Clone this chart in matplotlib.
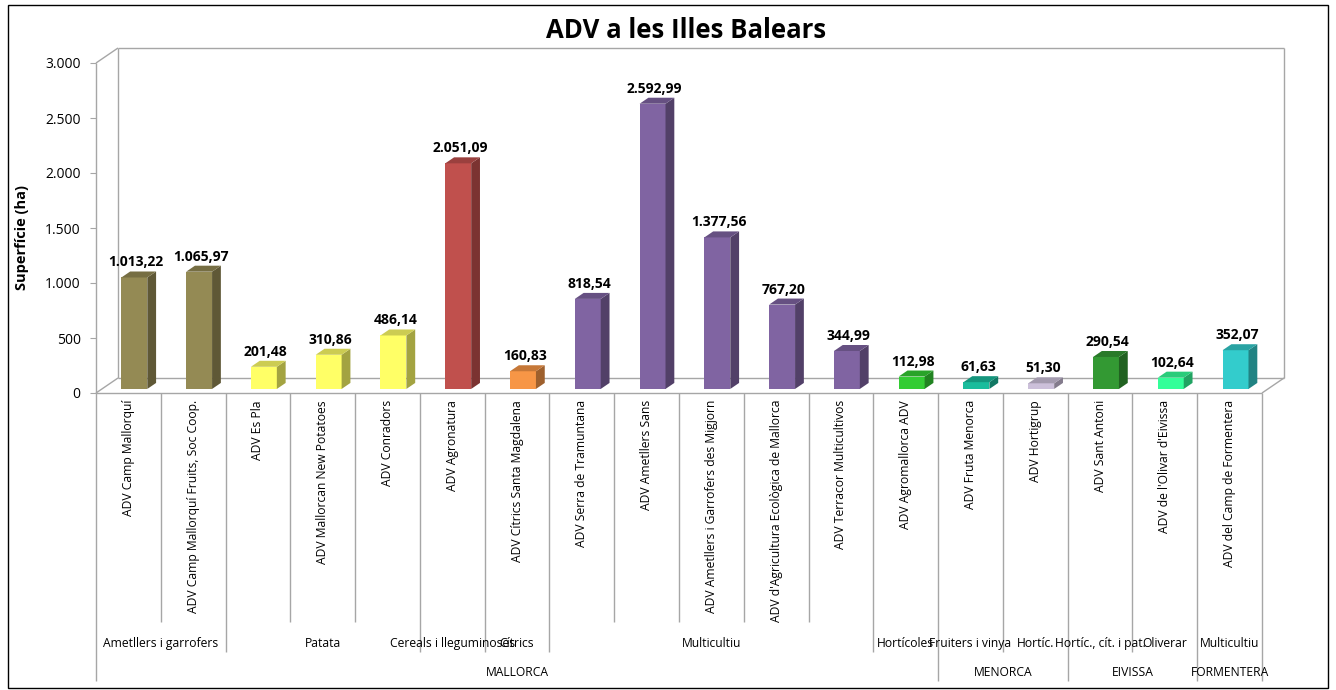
import matplotlib
matplotlib.use("Agg")
import matplotlib.pyplot as plt
import matplotlib.colors as mcolors
from matplotlib.patches import Polygon, Rectangle

plt.rcParams['font.family'] = ['Open Sans', 'DejaVu Sans']

# ── data ──
names = [
    "ADV Camp Mallorquí",
    "ADV Camp Mallorquí Fruits, Soc Coop.",
    "ADV Es Pla",
    "ADV Mallorcan New Potatoes",
    "ADV Conradors",
    "ADV Agronatura",
    "ADV Cítrics Santa Magdalena",
    "ADV Serra de Tramuntana",
    "ADV Ametllers Sans",
    "ADV Ametllers i Garrofers des Migjorn",
    "ADV d'Agricultura Ecològica de Mallorca",
    "ADV Terracor Multicultivos",
    "ADV Agromallorca ADV",
    "ADV Fruta Menorca",
    "ADV Hortigrup",
    "ADV Sant Antoni",
    "ADV de l'Olivar d'Eivissa",
    "ADV del Camp de Formentera",
]
values = [1013.22, 1065.97, 201.48, 310.86, 486.14, 2051.09, 160.83, 818.54,
          2592.99, 1377.56, 767.20, 344.99, 112.98, 61.63, 51.30, 290.54,
          102.64, 352.07]
colors = ["#948A54", "#948A54", "#FFFF66", "#FFFF66", "#FFFF66", "#C0504D",
          "#F79646", "#8064A2", "#8064A2", "#8064A2", "#8064A2", "#8064A2",
          "#33CC33", "#1ABC9C", "#CCC0DA", "#339933", "#33FF99", "#33CCCC"]
# (label, first category, last category + 1)
crops = [("Ametllers i garrofers", 0, 2), ("Patata", 2, 5),
         ("Cereals i lleguminoses", 5, 6), ("Cítrics", 6, 7),
         ("Multicultiu", 7, 12), ("Hortícoles", 12, 13),
         ("Fruiters i vinya", 13, 14), ("Hortíc.", 14, 15),
         ("Hortíc., cít. i pat.", 15, 16), ("Oliverar", 16, 17),
         ("Multicultiu", 17, 18)]
islands = [("MALLORCA", 0, 13), ("MENORCA", 13, 15), ("EIVISSA", 15, 17),
           ("FORMENTERA", 17, 18)]
yticks = [0, 500, 1000, 1500, 2000, 2500, 3000]

def es_num(v, dec=2):
    s = f"{v:,.{dec}f}"
    return s.replace(",", "X").replace(".", ",").replace("X", ".")

# ── layout (pixels) ──
W, H, DPI = 1336, 690, 100
X0, X1 = 96, 1262          # front axis left/right
Y0, Y1 = 393, 63           # value 0 / value 3000
N = len(values)
YMAX = yticks[-1]
ux = N / (X1 - X0)         # data units per px
uy = YMAX / (Y0 - Y1)
WALL_DX, WALL_DY = 22 * ux, 15 * uy   # depth offset of back wall
T0, T1 = 0.27, 0.67                   # bar depth range (fraction)
GRAY = "#A6A6A6"

fig = plt.figure(figsize=(W / DPI, H / DPI), dpi=DPI)
ax = fig.add_axes([X0 / W, (H - Y0) / H, (X1 - X0) / W, (Y0 - Y1) / H])
ax.set_xlim(0, N)
ax.set_ylim(0, YMAX)
for sp in ax.spines.values():
    sp.set_visible(False)
ax.set_xticks([])
ax.set_yticks(yticks)
ax.set_yticklabels([es_num(t, 0) for t in yticks], fontsize=10)
ax.tick_params(axis="y", length=4, color=GRAY, pad=7)
ax.set_ylabel("Superfície (ha)", fontsize=10.5, fontweight="bold")
ax.yaxis.set_label_coords((29 - X0) / (X1 - X0), (Y0 - 238) / (Y0 - Y1))

def line(xs, ys, **kw):
    ax.plot(xs, ys, color=GRAY, lw=1, clip_on=False, solid_capstyle="butt", **kw)

# 3D frame: y axis, back wall, floor
line([0, 0], [0, YMAX])
line([0, WALL_DX], [YMAX, YMAX + WALL_DY])
line([WALL_DX, WALL_DX], [WALL_DY, YMAX + WALL_DY])
line([WALL_DX, N + WALL_DX], [YMAX + WALL_DY] * 2)
line([N + WALL_DX, N + WALL_DX], [WALL_DY, YMAX + WALL_DY])
line([WALL_DX, N + WALL_DX], [WALL_DY, WALL_DY])
line([0, N], [0, 0])
line([0, WALL_DX], [0, WALL_DY])
line([N, N + WALL_DX], [0, WALL_DY])

# bars with fake depth
bw = 0.4
fx, fy = T0 * WALL_DX, T0 * WALL_DY
ddx, ddy = (T1 - T0) * WALL_DX, (T1 - T0) * WALL_DY
for i, (v, c) in enumerate(zip(values, colors)):
    rgb = mcolors.to_rgb(c)
    top_c = tuple(ch * 0.8 for ch in rgb)
    side_c = tuple(ch * 0.64 for ch in rgb)
    xl = i + 0.5 - bw / 2 + fx
    xr = xl + bw
    ax.bar(xl, v, width=bw, bottom=fy, align="edge", color=c, lw=0, zorder=3)
    ax.add_patch(Polygon([(xr, fy), (xr + ddx, fy + ddy), (xr + ddx, fy + v + ddy),
                          (xr, fy + v)], closed=True, color=side_c, lw=0, zorder=3))
    ax.add_patch(Polygon([(xl, fy + v), (xr, fy + v), (xr + ddx, fy + v + ddy),
                          (xl + ddx, fy + v + ddy)], closed=True, color=top_c, lw=0,
                         zorder=3))
    ax.text(xl + bw / 2 + 0.2 * ddx, fy + v + ddy + 2 * uy, es_num(v),
            ha="center", va="bottom", fontsize=10, fontweight="bold", zorder=4)

# multi-level category axis
L1 = -(622 - Y0) * uy
L2 = -(652 - Y0) * uy
L3 = -(681 - Y0) * uy
crop_edges = {s for _, s, e in crops} | {e for _, s, e in crops}
isl_edges = {s for _, s, e in islands} | {e for _, s, e in islands}
for b in range(N + 1):
    bottom = L3 if b in isl_edges else (L2 if b in crop_edges else L1)
    line([b, b], [0, bottom])
for i, nm in enumerate(names):
    ax.text(i + 0.5, -(400 - Y0) * uy, nm, rotation=90, ha="center", va="top",
            fontsize=8.7)
for lab, s, e in crops:
    ax.text((s + e) / 2, -(643 - Y0) * uy, lab, ha="center", va="center",
            fontsize=8.7)
for lab, s, e in islands:
    ax.text((s + e) / 2, -(672 - Y0) * uy, lab, ha="center", va="center",
            fontsize=8.7)

fig.text(686 / W, 1 - 30 / H, "ADV a les Illes Balears", ha="center",
         va="center", fontsize=18.5, fontweight="bold")
fig.add_artist(Rectangle((8 / W, 2 / H), 1320 / W, 683 / H, transform=fig.transFigure,
                         fill=False, ec="black", lw=1))

fig.savefig("out.png", dpi=DPI)
